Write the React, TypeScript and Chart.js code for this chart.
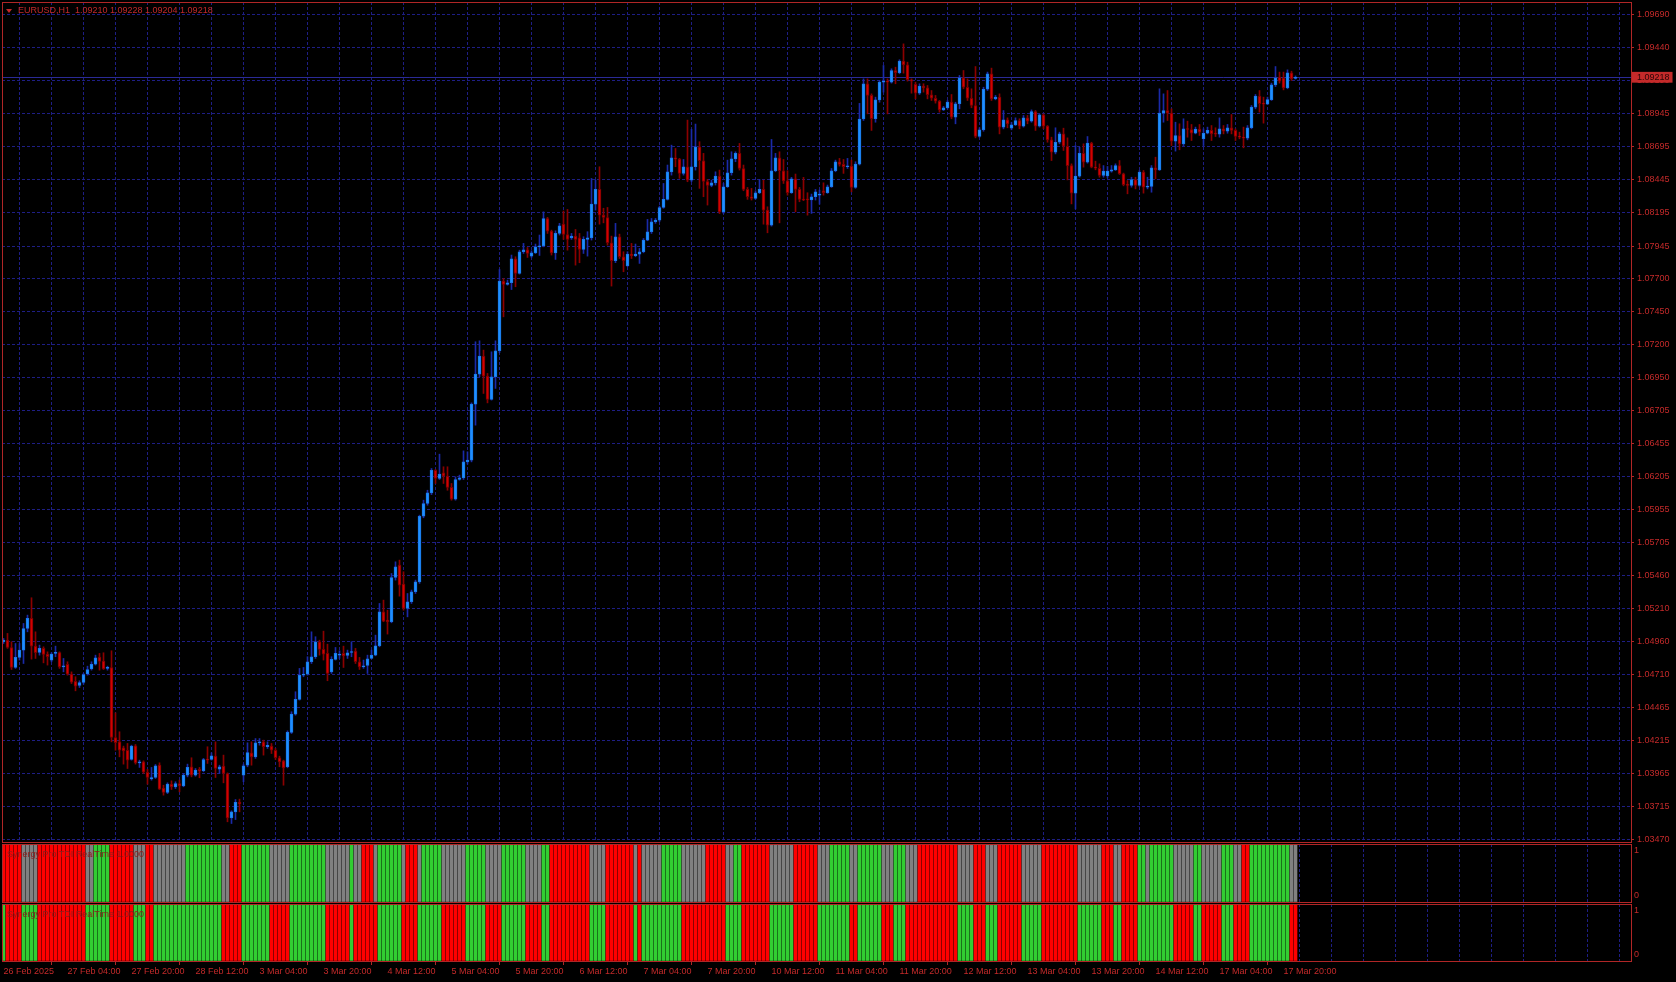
import React, { useEffect, useRef } from 'react';
import { Chart, registerables } from 'chart.js';

Chart.register(...registerables);

// ---------- data ----------
const symbolTitle = 'EURUSD,H1  1.09210 1.09228 1.09204 1.09218';
const indicatorName = 'Synergy Pro TDI RealTime 1.0000';

const timeLabels = [
  '26 Feb 2025', '27 Feb 04:00', '27 Feb 20:00', '28 Feb 12:00', '3 Mar 04:00', '3 Mar 20:00',
  '4 Mar 12:00', '5 Mar 04:00', '5 Mar 20:00', '6 Mar 12:00', '7 Mar 04:00', '7 Mar 20:00',
  '10 Mar 12:00', '11 Mar 04:00', '11 Mar 20:00', '12 Mar 12:00', '13 Mar 04:00', '13 Mar 20:00',
  '14 Mar 12:00', '17 Mar 04:00', '17 Mar 20:00',
];

const priceTicks = [
  1.0969, 1.0944, 1.0919, 1.08945, 1.08695, 1.08445, 1.08195, 1.07945, 1.077, 1.0745, 1.072, 1.0695,
  1.06705, 1.06455, 1.06205, 1.05955, 1.05705, 1.0546, 1.0521, 1.0496, 1.0471, 1.04465, 1.04215,
  1.03965, 1.03715, 1.0347,
];
const currentPrice = 1.09218;

const openPrices = [
  1.04960, 1.04972, 1.04917, 1.04766, 1.04842, 1.04897, 1.05060, 1.05136, 1.04927, 1.04880,
  1.04910, 1.04867, 1.04822, 1.04872, 1.04879, 1.04771, 1.04789, 1.04716, 1.04661, 1.04630,
  1.04653, 1.04718, 1.04756, 1.04791, 1.04844, 1.04814, 1.04759, 1.04766, 1.04238, 1.04205,
  1.04160, 1.04142, 1.04072, 1.04175, 1.04047, 1.04054, 1.03976, 1.03926, 1.03936, 1.04029,
  1.03856, 1.03823, 1.03886, 1.03866, 1.03891, 1.03873, 1.03954, 1.04017, 1.03954, 1.03997,
  1.03987, 1.04075, 1.04072, 1.04097, 1.03999, 1.04022, 1.03966, 1.03632, 1.03677, 1.03748,
  1.03954, 1.04029, 1.04122, 1.04092, 1.04198, 1.04205, 1.04168, 1.04173, 1.04142, 1.04085,
  1.04062, 1.04017, 1.04276, 1.04414, 1.04525, 1.04708, 1.04716, 1.04809, 1.04847, 1.04960,
  1.04902, 1.04872, 1.04733, 1.04827, 1.04859, 1.04872, 1.04857, 1.04879, 1.04889, 1.04809,
  1.04771, 1.04781, 1.04834, 1.04859, 1.04930, 1.05186, 1.05123, 1.05111, 1.05445, 1.05538,
  1.05395, 1.05211, 1.05262, 1.05337, 1.05412, 1.05907, 1.06003, 1.06083, 1.06254, 1.06192,
  1.06234, 1.06209, 1.06124, 1.06036, 1.06184, 1.06196, 1.06317, 1.06330, 1.06752, 1.06979,
  1.07115, 1.06964, 1.06788, 1.06959, 1.07155, 1.07680, 1.07655, 1.07668, 1.07849, 1.07738,
  1.07902, 1.07917, 1.07869, 1.07894, 1.07939, 1.07947, 1.08153, 1.08058, 1.07894, 1.08040,
  1.08110, 1.08032, 1.08007, 1.08020, 1.08007, 1.07919, 1.07995, 1.08007, 1.08261, 1.08372,
  1.08178, 1.08160, 1.07970, 1.07834, 1.08015, 1.07864, 1.07796, 1.07884, 1.07872, 1.07884,
  1.07902, 1.07990, 1.08053, 1.08128, 1.08141, 1.08236, 1.08297, 1.08505, 1.08611, 1.08601,
  1.08493, 1.08543, 1.08442, 1.08543, 1.08694, 1.08588, 1.08432, 1.08402, 1.08422, 1.08473,
  1.08203, 1.08392, 1.08498, 1.08603, 1.08644, 1.08530, 1.08372, 1.08317, 1.08304, 1.08347,
  1.08372, 1.08216, 1.08103, 1.08513, 1.08611, 1.08513, 1.08437, 1.08347, 1.08452, 1.08372,
  1.08297, 1.08302, 1.08292, 1.08317, 1.08329, 1.08362, 1.08347, 1.08392, 1.08513, 1.08581,
  1.08561, 1.08543, 1.08548, 1.08387, 1.08563, 1.08903, 1.09169, 1.09081, 1.08905, 1.09048,
  1.09181, 1.09186, 1.09181, 1.09269, 1.09252, 1.09340, 1.09312, 1.09199, 1.09164, 1.09098,
  1.09151, 1.09138, 1.09086, 1.09060, 1.09038, 1.08972, 1.08988, 1.09030, 1.08917, 1.09018,
  1.09214, 1.09143, 1.09060, 1.09005, 1.08771, 1.08822, 1.09128, 1.09244, 1.09055, 1.09068,
  1.08842, 1.08897, 1.08834, 1.08859, 1.08892, 1.08849, 1.08912, 1.08887, 1.08960, 1.08849,
  1.08935, 1.08849, 1.08746, 1.08653, 1.08728, 1.08791, 1.08698, 1.08552, 1.08344, 1.08472,
  1.08645, 1.08578, 1.08721, 1.08540, 1.08532, 1.08477, 1.08474, 1.08510, 1.08520, 1.08552,
  1.08490, 1.08407, 1.08402, 1.08447, 1.08402, 1.08502, 1.08389, 1.08394, 1.08535, 1.08520,
  1.08947, 1.08967, 1.08947, 1.08736, 1.08779, 1.08716, 1.08829, 1.08824, 1.08796, 1.08827,
  1.08754, 1.08796, 1.08817, 1.08791, 1.08788, 1.08829, 1.08811, 1.08837, 1.08817, 1.08771,
  1.08766, 1.08759, 1.08837, 1.08993, 1.09076, 1.09018, 1.09015, 1.09050, 1.09161, 1.09219,
  1.09211, 1.09138, 1.09252, 1.09210,
];

const highPrices = [
  1.04985, 1.05023, 1.04960, 1.04947, 1.04947, 1.05098, 1.05161, 1.05292, 1.05035, 1.04935,
  1.04922, 1.04884, 1.04877, 1.04927, 1.04884, 1.04834, 1.04809, 1.04733, 1.04696, 1.04666,
  1.04721, 1.04776, 1.04809, 1.04859, 1.04872, 1.04877, 1.04776, 1.04892, 1.04424, 1.04281,
  1.04173, 1.04193, 1.04180, 1.04185, 1.04067, 1.04062, 1.03997, 1.04012, 1.04034, 1.04047,
  1.03878, 1.03896, 1.03911, 1.03904, 1.03916, 1.03966, 1.04037, 1.04085, 1.04004, 1.04012,
  1.04080, 1.04168, 1.04122, 1.04205, 1.04029, 1.04105, 1.03971, 1.03685, 1.03770, 1.03773,
  1.04037, 1.04198, 1.04205, 1.04230, 1.04230, 1.04218, 1.04205, 1.04193, 1.04155, 1.04097,
  1.04067, 1.04288, 1.04432, 1.04583, 1.04759, 1.04766, 1.04847, 1.05035, 1.04998, 1.04972,
  1.05040, 1.04942, 1.04847, 1.04917, 1.04892, 1.04927, 1.04897, 1.04960, 1.04910, 1.04842,
  1.04822, 1.04859, 1.04897, 1.05010, 1.05249, 1.05274, 1.05198, 1.05475, 1.05563, 1.05576,
  1.05488, 1.05324, 1.05350, 1.05425, 1.05915, 1.06028, 1.06103, 1.06267, 1.06259, 1.06375,
  1.06280, 1.06280, 1.06154, 1.06204, 1.06217, 1.06400, 1.06393, 1.06762, 1.07223, 1.07230,
  1.07160, 1.06984, 1.07147, 1.07230, 1.07768, 1.07700, 1.07688, 1.07877, 1.07864, 1.07914,
  1.07965, 1.07934, 1.07909, 1.07960, 1.08028, 1.08203, 1.08161, 1.08065, 1.08060, 1.08116,
  1.08209, 1.08221, 1.08040, 1.08070, 1.08040, 1.08015, 1.08053, 1.08455, 1.08442, 1.08543,
  1.08230, 1.08236, 1.08020, 1.08116, 1.08035, 1.07902, 1.07902, 1.07965, 1.07960, 1.07927,
  1.08002, 1.08146, 1.08153, 1.08153, 1.08246, 1.08417, 1.08556, 1.08706, 1.08681, 1.08606,
  1.08598, 1.08895, 1.08825, 1.08865, 1.08732, 1.08644, 1.08447, 1.08442, 1.08505, 1.08518,
  1.08417, 1.08593, 1.08656, 1.08656, 1.08719, 1.08556, 1.08387, 1.08380, 1.08362, 1.08447,
  1.08442, 1.08241, 1.08749, 1.08644, 1.08656, 1.08598, 1.08513, 1.08463, 1.08488, 1.08387,
  1.08463, 1.08347, 1.08337, 1.08372, 1.08367, 1.08422, 1.08405, 1.08530, 1.08593, 1.08606,
  1.08598, 1.08606, 1.08593, 1.08581, 1.09021, 1.09206, 1.09206, 1.09093, 1.09068, 1.09194,
  1.09307, 1.09206, 1.09282, 1.09294, 1.09350, 1.09470, 1.09332, 1.09206, 1.09181, 1.09169,
  1.09169, 1.09156, 1.09118, 1.09081, 1.09043, 1.08998, 1.09043, 1.09088, 1.09030, 1.09232,
  1.09269, 1.09206, 1.09131, 1.09299, 1.08837, 1.09143, 1.09257, 1.09287, 1.09081, 1.09093,
  1.08967, 1.08912, 1.08879, 1.08912, 1.08905, 1.08930, 1.08930, 1.08972, 1.08967, 1.08942,
  1.08942, 1.08854, 1.08766, 1.08837, 1.08804, 1.08834, 1.08761, 1.08565, 1.08703, 1.08691,
  1.08716, 1.08771, 1.08728, 1.08585, 1.08565, 1.08552, 1.08545, 1.08552, 1.08565, 1.08590,
  1.08495, 1.08439, 1.08464, 1.08464, 1.08515, 1.08515, 1.08464, 1.08552, 1.08615, 1.09131,
  1.09093, 1.09118, 1.08980, 1.08879, 1.08867, 1.08905, 1.08887, 1.08862, 1.08842, 1.08862,
  1.08829, 1.08842, 1.08854, 1.08837, 1.08912, 1.08854, 1.08862, 1.08937, 1.08829, 1.08804,
  1.08842, 1.08854, 1.09005, 1.09088, 1.09118, 1.09068, 1.09068, 1.09174, 1.09299, 1.09257,
  1.09257, 1.09274, 1.09264, 1.09228,
];

const lowPrices = [
  1.04947, 1.04910, 1.04751, 1.04759, 1.04822, 1.04796, 1.05035, 1.04829, 1.04834, 1.04859,
  1.04801, 1.04784, 1.04809, 1.04847, 1.04759, 1.04733, 1.04708, 1.04645, 1.04590, 1.04615,
  1.04640, 1.04708, 1.04746, 1.04784, 1.04746, 1.04751, 1.04746, 1.04205, 1.04142, 1.04092,
  1.04037, 1.04004, 1.04067, 1.04037, 1.04012, 1.03966, 1.03886, 1.03916, 1.03929, 1.03846,
  1.03803, 1.03815, 1.03846, 1.03853, 1.03828, 1.03866, 1.03941, 1.03941, 1.03946, 1.03934,
  1.03979, 1.04042, 1.04067, 1.03936, 1.03966, 1.03896, 1.03602, 1.03589, 1.03619, 1.03677,
  1.03904, 1.04017, 1.04029, 1.04080, 1.04180, 1.04105, 1.04155, 1.04117, 1.04072, 1.04017,
  1.03878, 1.04009, 1.04268, 1.04406, 1.04520, 1.04696, 1.04708, 1.04796, 1.04834, 1.04859,
  1.04822, 1.04666, 1.04721, 1.04822, 1.04834, 1.04766, 1.04834, 1.04847, 1.04796, 1.04751,
  1.04759, 1.04721, 1.04834, 1.04854, 1.04922, 1.05111, 1.05018, 1.05103, 1.05425, 1.05304,
  1.05198, 1.05148, 1.05249, 1.05324, 1.05400, 1.05895, 1.05990, 1.06070, 1.06154, 1.06184,
  1.06154, 1.06103, 1.06028, 1.06028, 1.06179, 1.06184, 1.06300, 1.06317, 1.06594, 1.06959,
  1.06833, 1.06762, 1.06783, 1.06871, 1.07140, 1.07411, 1.07650, 1.07617, 1.07638, 1.07733,
  1.07889, 1.07859, 1.07859, 1.07889, 1.07874, 1.07939, 1.08040, 1.07877, 1.07844, 1.08028,
  1.07995, 1.07914, 1.07995, 1.07801, 1.07819, 1.07889, 1.07869, 1.07990, 1.08216, 1.08110,
  1.08120, 1.07952, 1.07643, 1.07820, 1.07851, 1.07751, 1.07789, 1.07851, 1.07864, 1.07814,
  1.07894, 1.07985, 1.08040, 1.08116, 1.08128, 1.08230, 1.08292, 1.08480, 1.08543, 1.08455,
  1.08480, 1.08430, 1.08430, 1.08518, 1.08380, 1.08317, 1.08254, 1.08392, 1.08405, 1.08190,
  1.08191, 1.08387, 1.08480, 1.08581, 1.08518, 1.08362, 1.08297, 1.08292, 1.08297, 1.08340,
  1.08110, 1.08045, 1.08095, 1.08505, 1.08120, 1.08417, 1.08329, 1.08342, 1.08203, 1.08279,
  1.08287, 1.08178, 1.08191, 1.08292, 1.08261, 1.08329, 1.08342, 1.08387, 1.08505, 1.08548,
  1.08493, 1.08530, 1.08354, 1.08380, 1.08556, 1.08892, 1.08942, 1.08817, 1.08879, 1.09030,
  1.09106, 1.08942, 1.09174, 1.09169, 1.09244, 1.09249, 1.09189, 1.09098, 1.09055, 1.09088,
  1.09106, 1.09055, 1.09043, 1.09023, 1.08955, 1.08967, 1.08980, 1.08905, 1.08867, 1.08980,
  1.09131, 1.09043, 1.08988, 1.08761, 1.08765, 1.08811, 1.09118, 1.09043, 1.09048, 1.08791,
  1.08829, 1.08837, 1.08822, 1.08854, 1.08829, 1.08842, 1.08867, 1.08879, 1.08817, 1.08842,
  1.08829, 1.08728, 1.08590, 1.08640, 1.08716, 1.08666, 1.08444, 1.08263, 1.08225, 1.08464,
  1.08540, 1.08570, 1.08535, 1.08520, 1.08464, 1.08464, 1.08459, 1.08502, 1.08515, 1.08485,
  1.08399, 1.08339, 1.08389, 1.08376, 1.08394, 1.08344, 1.08376, 1.08351, 1.08452, 1.08515,
  1.08879, 1.08892, 1.08703, 1.08661, 1.08671, 1.08703, 1.08766, 1.08741, 1.08791, 1.08779,
  1.08703, 1.08791, 1.08741, 1.08771, 1.08766, 1.08791, 1.08796, 1.08791, 1.08741, 1.08754,
  1.08686, 1.08746, 1.08829, 1.08980, 1.08955, 1.08872, 1.09013, 1.09043, 1.09148, 1.09174,
  1.09123, 1.09131, 1.09194, 1.09204,
];

const closePrices = [
  1.04972, 1.04917, 1.04766, 1.04842, 1.04897, 1.05060, 1.05136, 1.04927, 1.04877, 1.04910,
  1.04864, 1.04847, 1.04867, 1.04877, 1.04771, 1.04779, 1.04716, 1.04655, 1.04625, 1.04653,
  1.04713, 1.04751, 1.04789, 1.04839, 1.04811, 1.04756, 1.04766, 1.04238, 1.04198, 1.04142,
  1.04137, 1.04067, 1.04173, 1.04047, 1.04054, 1.03976, 1.03936, 1.03936, 1.04024, 1.03848,
  1.03823, 1.03886, 1.03866, 1.03891, 1.03873, 1.03954, 1.04012, 1.03954, 1.03992, 1.03984,
  1.04072, 1.04067, 1.04100, 1.04004, 1.04017, 1.03966, 1.03632, 1.03677, 1.03748, 1.03738,
  1.04024, 1.04125, 1.04092, 1.04198, 1.04205, 1.04168, 1.04178, 1.04142, 1.04085, 1.04054,
  1.04009, 1.04276, 1.04414, 1.04525, 1.04708, 1.04716, 1.04809, 1.04847, 1.04960, 1.04902,
  1.04867, 1.04721, 1.04827, 1.04872, 1.04867, 1.04854, 1.04877, 1.04884, 1.04809, 1.04771,
  1.04776, 1.04832, 1.04859, 1.04930, 1.05186, 1.05116, 1.05111, 1.05445, 1.05526, 1.05387,
  1.05211, 1.05262, 1.05337, 1.05412, 1.05907, 1.06003, 1.06083, 1.06254, 1.06192, 1.06224,
  1.06209, 1.06124, 1.06036, 1.06184, 1.06196, 1.06317, 1.06330, 1.06752, 1.06979, 1.07115,
  1.06964, 1.06788, 1.06959, 1.07155, 1.07680, 1.07655, 1.07668, 1.07849, 1.07738, 1.07902,
  1.07917, 1.07889, 1.07894, 1.07939, 1.07947, 1.08153, 1.08058, 1.07894, 1.08040, 1.08098,
  1.08032, 1.07995, 1.08020, 1.07995, 1.07919, 1.07995, 1.08007, 1.08261, 1.08372, 1.08178,
  1.08160, 1.07970, 1.07834, 1.08015, 1.07864, 1.07834, 1.07884, 1.07872, 1.07884, 1.07902,
  1.07990, 1.08053, 1.08128, 1.08141, 1.08236, 1.08297, 1.08505, 1.08611, 1.08601, 1.08493,
  1.08543, 1.08442, 1.08543, 1.08694, 1.08588, 1.08432, 1.08402, 1.08422, 1.08473, 1.08203,
  1.08392, 1.08498, 1.08603, 1.08644, 1.08530, 1.08372, 1.08317, 1.08304, 1.08347, 1.08372,
  1.08216, 1.08103, 1.08513, 1.08611, 1.08513, 1.08437, 1.08347, 1.08452, 1.08372, 1.08297,
  1.08292, 1.08294, 1.08317, 1.08354, 1.08337, 1.08347, 1.08392, 1.08513, 1.08581, 1.08561,
  1.08543, 1.08548, 1.08387, 1.08563, 1.08903, 1.09169, 1.09081, 1.08905, 1.09048, 1.09181,
  1.09186, 1.09181, 1.09269, 1.09252, 1.09340, 1.09312, 1.09199, 1.09189, 1.09098, 1.09151,
  1.09138, 1.09086, 1.09060, 1.09038, 1.08972, 1.08988, 1.09030, 1.08917, 1.09018, 1.09214,
  1.09143, 1.09060, 1.09005, 1.08771, 1.08822, 1.09128, 1.09244, 1.09055, 1.09068, 1.08842,
  1.08897, 1.08867, 1.08859, 1.08892, 1.08849, 1.08912, 1.08887, 1.08960, 1.08849, 1.08935,
  1.08849, 1.08746, 1.08653, 1.08728, 1.08791, 1.08698, 1.08552, 1.08344, 1.08472, 1.08645,
  1.08578, 1.08721, 1.08540, 1.08532, 1.08477, 1.08510, 1.08510, 1.08520, 1.08552, 1.08490,
  1.08407, 1.08402, 1.08447, 1.08402, 1.08502, 1.08389, 1.08394, 1.08535, 1.08520, 1.08947,
  1.08967, 1.08947, 1.08736, 1.08779, 1.08716, 1.08829, 1.08824, 1.08796, 1.08827, 1.08804,
  1.08796, 1.08817, 1.08791, 1.08788, 1.08829, 1.08811, 1.08837, 1.08817, 1.08771, 1.08766,
  1.08759, 1.08837, 1.08993, 1.09076, 1.09018, 1.09015, 1.09050, 1.09161, 1.09214, 1.09189,
  1.09138, 1.09252, 1.09206, 1.09218,
];

// indicator states per bar, run-length: R = red, G = green, N = grey
const tdiSignalRuns: [string, number][] = [
  ['R', 5], ['N', 4], ['R', 12], ['N', 2], ['G', 4], ['R', 6], ['N', 3], ['R', 2], ['N', 8], ['G', 9],
  ['N', 2], ['R', 3], ['G', 7], ['N', 5], ['G', 9], ['N', 6], ['G', 1], ['N', 2], ['R', 3], ['N', 1],
  ['G', 6], ['N', 1], ['R', 3], ['N', 1], ['G', 5], ['N', 6], ['G', 5], ['N', 4], ['G', 6], ['N', 4],
  ['G', 2], ['R', 10], ['N', 4], ['R', 7], ['N', 1], ['R', 1], ['N', 5], ['G', 5], ['N', 6], ['R', 5],
  ['N', 2], ['G', 2], ['R', 7], ['N', 6], ['R', 6], ['N', 3], ['G', 5], ['N', 2], ['G', 6], ['N', 3],
  ['G', 3], ['N', 3], ['R', 10], ['N', 4], ['R', 3], ['N', 3], ['R', 6], ['N', 5], ['R', 9], ['N', 6],
  ['R', 3], ['N', 2], ['R', 4], ['G', 2], ['N', 1], ['G', 6], ['N', 5], ['G', 2], ['N', 5], ['G', 3],
  ['N', 2], ['R', 2], ['G', 10], ['N', 2],
];
const tdiTrendRuns: [string, number][] = [
  ['G', 1], ['R', 4], ['G', 4], ['R', 12], ['G', 6], ['R', 6], ['G', 3], ['R', 2], ['G', 17], ['R', 5],
  ['G', 7], ['R', 5], ['G', 9], ['R', 6], ['G', 1], ['R', 6], ['G', 6], ['R', 4], ['G', 6], ['R', 6],
  ['G', 5], ['R', 4], ['G', 6], ['R', 4], ['G', 2], ['R', 10], ['G', 4], ['R', 7], ['G', 1], ['R', 1],
  ['G', 10], ['R', 11], ['G', 4], ['R', 7], ['G', 6], ['R', 6], ['G', 8], ['R', 2], ['G', 6], ['R', 3],
  ['G', 3], ['R', 13], ['G', 4], ['R', 3], ['G', 3], ['R', 6], ['G', 5], ['R', 9], ['G', 6], ['R', 3],
  ['G', 2], ['R', 4], ['G', 9], ['R', 5], ['G', 2], ['R', 5], ['G', 3], ['R', 4], ['G', 10], ['R', 2],
];

// ---------- styling ----------
const FONT = "'Liberation Sans', Arial, sans-serif";
const TEXT = '#c42a2a';
const FRAME = '#b02626';
const GRID = '#1e1e84';
const PRICE_LINE = '#2a2a96';
const BADGE = '#c42a2a';
const BADGE_TEXT = '#2a0606';
const BULL_BODY = '#1e90ff';
const BULL_EDGE = '#1a78e8';
const BULL_WICK = '#1a2aa8';
const BEAR_BODY = '#d40000';
const BEAR_EDGE = '#7a0000';
const BEAR_WICK = '#8b0000';
const STATE_COLORS: Record<string, string> = { R: '#ff0000', G: '#32cd32', N: '#808080' };

const W = 1676;
const AXIS_W = 45;
const X_MIN = -0.375;
const X_MAX = 406.875;
const Y_MIN = 1.034496;
const Y_MAX = 1.097858;

const expandRuns = (runs: [string, number][]) => runs.flatMap(([s, n]) => Array(n).fill(s) as string[]);

const framePlugin = {
  id: 'panelFrame',
  afterDraw(chart: any) {
    const { ctx, chartArea: a } = chart;
    ctx.save();
    ctx.strokeStyle = FRAME;
    ctx.lineWidth = 1;
    ctx.setLineDash([]);
    ctx.strokeRect(Math.round(a.left) + 0.5, Math.round(a.top) + 0.5, Math.round(a.right - a.left), Math.round(a.bottom - a.top));
    ctx.restore();
  },
};

const zeroPad = (s: any) => {
  s.paddingTop = 0;
  s.paddingBottom = 0;
  s.paddingLeft = 0;
  s.paddingRight = 0;
};

const xAxis = (showLabels: boolean) => ({
  type: 'linear',
  min: X_MIN,
  max: X_MAX,
  offset: false,
  afterBuildTicks: (s: any) => {
    const t: any[] = [];
    for (let v = 0; v <= X_MAX; v += 8) t.push({ value: v });
    s.ticks = t;
  },
  afterFit: (s: any) => {
    s.height = showLabels ? 21 : 0;
    zeroPad(s);
  },
  ticks: showLabels
    ? {
        display: true,
        autoSkip: false,
        maxRotation: 0,
        minRotation: 0,
        align: 'start',
        padding: 1,
        color: TEXT,
        font: { family: FONT, size: 9 },
        callback: (v: any) => {
          const n = Number(v);
          return n % 16 === 0 && n / 16 < timeLabels.length ? timeLabels[n / 16] : '';
        },
      }
    : { display: false },
  grid: {
    color: GRID,
    lineWidth: 1,
    drawTicks: showLabels,
    tickLength: 4,
    tickColor: (ctx: any) => {
      const v = ctx.tick ? ctx.tick.value : -1;
      return v % 16 === 0 && v / 16 < timeLabels.length ? FRAME : 'rgba(0,0,0,0)';
    },
  },
  border: { display: false, dash: [3, 2] },
});

const baseOptions = (padding: any) => ({
  responsive: false,
  animation: false,
  devicePixelRatio: 1,
  events: [],
  layout: { padding, autoPadding: false },
  plugins: { legend: { display: false }, tooltip: { enabled: false } },
});

export default function App() {
  const mainRef = useRef<HTMLCanvasElement>(null);
  const sub1Ref = useRef<HTMLCanvasElement>(null);
  const sub2Ref = useRef<HTMLCanvasElement>(null);

  useEffect(() => {
    const isBull = (i: number) => closePrices[i] >= openPrices[i];

    const mainConfig: any = {
      type: 'bar',
      data: {
        datasets: [
          {
            label: 'body',
            data: openPrices.map((o, i) => ({ x: i, y: [o, closePrices[i]] })),
            backgroundColor: (c: any) => (isBull(c.dataIndex) ? BULL_BODY : BEAR_BODY),
            borderColor: (c: any) => (isBull(c.dataIndex) ? BULL_EDGE : BEAR_EDGE),
            borderWidth: 1,
            borderSkipped: false,
            barThickness: 3,
            minBarLength: 1,
            grouped: false,
            order: 0,
          },
          {
            label: 'wick',
            data: highPrices.map((h, i) => ({ x: i, y: [lowPrices[i], h] })),
            backgroundColor: (c: any) => (isBull(c.dataIndex) ? BULL_WICK : BEAR_WICK),
            borderWidth: 0,
            barThickness: 1,
            minBarLength: 1,
            grouped: false,
            order: 1,
          },
        ],
      },
      options: {
        ...baseOptions({ left: 2, top: 2, right: 0, bottom: 1 }),
        scales: {
          x: xAxis(false),
          y: {
            type: 'linear',
            position: 'right',
            min: Y_MIN,
            max: Y_MAX,
            afterBuildTicks: (s: any) => {
              s.ticks = [...priceTicks.map((v) => ({ value: v })), { value: currentPrice }];
            },
            afterFit: (s: any) => {
              s.width = AXIS_W;
              zeroPad(s);
            },
            ticks: {
              autoSkip: false,
              padding: 3,
              font: { family: FONT, size: 9 },
              color: (c: any) => (c.tick && c.tick.value === currentPrice ? BADGE_TEXT : TEXT),
              showLabelBackdrop: (c: any) => !!(c.tick && c.tick.value === currentPrice),
              backdropColor: BADGE,
              backdropPadding: { left: 5, right: 3, top: 0, bottom: 0 },
              callback: (v: any) => Number(v).toFixed(5),
            },
            grid: {
              color: (c: any) => (c.tick && c.tick.value === currentPrice ? PRICE_LINE : GRID),
              lineWidth: 1,
              drawTicks: true,
              tickLength: 3,
              tickColor: FRAME,
            },
            border: {
              display: false,
              dash: (c: any) => (c.tick && c.tick.value === currentPrice ? [] : [3, 2]),
            },
          },
        },
      },
      plugins: [framePlugin],
    };

    const subConfig = (states: string[], showLabels: boolean): any => ({
      type: 'bar',
      data: {
        datasets: [
          {
            label: indicatorName,
            data: states.map((_, i) => ({ x: i, y: 1 })),
            backgroundColor: (c: any) => STATE_COLORS[states[c.dataIndex]],
            borderWidth: 0,
            barThickness: 3,
            grouped: false,
          },
        ],
      },
      options: {
        ...baseOptions({ left: 2, top: 1, right: 0, bottom: showLabels ? 0 : 1 }),
        scales: {
          x: xAxis(showLabels),
          y: {
            type: 'linear',
            position: 'right',
            min: 0,
            max: 1,
            afterBuildTicks: (s: any) => {
              s.ticks = [{ value: 1 }, { value: 0 }];
            },
            afterFit: (s: any) => {
              s.width = AXIS_W;
              zeroPad(s);
            },
            ticks: {
              autoSkip: false,
              padding: 3,
              color: TEXT,
              font: { family: FONT, size: 9, lineHeight: 1.5 },
              callback: (v: any) => (Number(v) === 1 ? ['', '1'] : ['0', '']),
            },
            grid: { color: GRID, lineWidth: 1, drawTicks: false },
            border: { display: false, dash: [3, 2] },
          },
        },
      },
      plugins: [framePlugin],
    });

    const charts = [
      new Chart(mainRef.current as HTMLCanvasElement, mainConfig),
      new Chart(sub1Ref.current as HTMLCanvasElement, subConfig(expandRuns(tdiSignalRuns), false)),
      new Chart(sub2Ref.current as HTMLCanvasElement, subConfig(expandRuns(tdiTrendRuns), true)),
    ];
    return () => charts.forEach((c) => c.destroy());
  }, []);

  const textStyle: React.CSSProperties = {
    position: 'absolute',
    fontFamily: FONT,
    fontSize: 9,
    lineHeight: '12px',
    whiteSpace: 'pre',
    pointerEvents: 'none',
  };

  return (
    <div style={{ position: 'fixed', left: 0, top: 0, width: W, height: 982, background: '#000', overflow: 'hidden' }}>
      <canvas ref={mainRef} width={W} height={843} style={{ position: 'absolute', left: 0, top: 0, width: W, height: 843 }} />
      <canvas ref={sub1Ref} width={W} height={60} style={{ position: 'absolute', left: 0, top: 843, width: W, height: 60 }} />
      <canvas ref={sub2Ref} width={W} height={79} style={{ position: 'absolute', left: 0, top: 903, width: W, height: 79 }} />
      <div
        style={{
          position: 'absolute',
          left: 6,
          top: 9,
          width: 0,
          height: 0,
          borderLeft: '3px solid transparent',
          borderRight: '3px solid transparent',
          borderTop: '4px solid ' + TEXT,
        }}
      />
      <div style={{ ...textStyle, left: 18, top: 4, color: TEXT }}>{symbolTitle}</div>
      <div style={{ ...textStyle, left: 7, top: 848, color: '#8e1c1c' }}>{indicatorName}</div>
      <div style={{ ...textStyle, left: 7, top: 908, color: '#8e1c1c' }}>{indicatorName}</div>
    </div>
  );
}
